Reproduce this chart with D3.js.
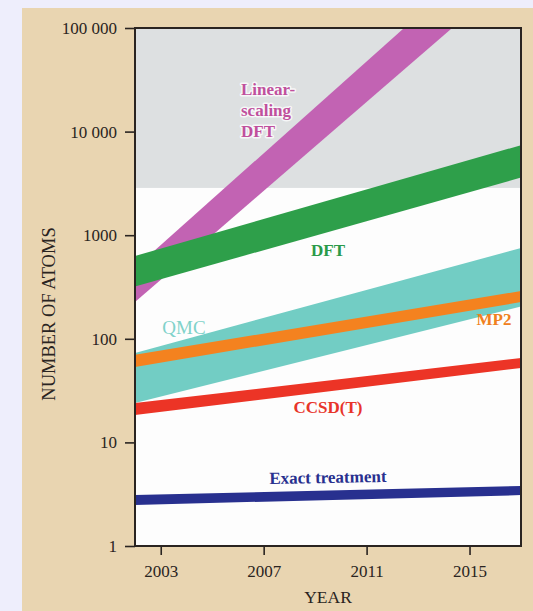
<!DOCTYPE html>
<html>
<head>
<meta charset="utf-8">
<script src="https://cdn.jsdelivr.net/npm/d3@7"></script>
<style>
  html, body { margin: 0; padding: 0; background: #eeeefc; }
  svg { display: block; }
</style>
</head>
<body>
<svg id="chart" width="533" height="611"></svg>
<script>
// ---- data (at the plot's edge years) ----
const years = [2002, 2017];
const linearDFTLow  = [226, 375000];
const linearDFTHigh = [482, 1016000];
const dftLow  = [320, 3600];
const dftHigh = [630, 7400];
const qmcLow  = [24, 205];
const qmcHigh = [73, 752];
const mp2Low  = [53.5, 226];
const mp2High = [70, 289];
const ccsdLow  = [18.4, 52.3];
const ccsdHigh = [24, 65.3];
const exactLow  = [2.49, 3.1];
const exactHigh = [3.1, 3.79];
const greyThreshold = 2860;
const xTicks = [2003, 2007, 2011, 2015];
const yTicks = [1, 10, 100, 1000, 10000, 100000];

const FONT = "'Liberation Serif', 'Times New Roman', serif";
const svg = d3.select("#chart");

// panel background
svg.append("rect").attr("x", 22).attr("y", 8).attr("width", 511).attr("height", 603).attr("fill", "#e9d5b1");

const L = 135, R = 521, T = 28, B = 546;
const x = d3.scaleLinear().domain([2002, 2017]).range([L, R]);
const y = d3.scaleLog().domain([1, 100000]).range([B, T]);

svg.append("defs").append("clipPath").attr("id", "plotclip")
  .append("rect").attr("x", L).attr("y", T).attr("width", R - L).attr("height", B - T);

const plot = svg.append("g").attr("clip-path", "url(#plotclip)");
plot.append("rect").attr("x", L).attr("y", T).attr("width", R - L).attr("height", B - T).attr("fill", "#fdfdfd");
plot.append("rect").attr("x", L).attr("y", T).attr("width", R - L).attr("height", y(greyThreshold) - T).attr("fill", "#dde0e1");

const bands = [
  {lo: linearDFTLow, hi: linearDFTHigh, color: "#c263b3"},
  {lo: dftLow, hi: dftHigh, color: "#2e9f4a"},
  {lo: qmcLow, hi: qmcHigh, color: "#72cdc4"},
  {lo: mp2Low, hi: mp2High, color: "#f4821f"},
  {lo: ccsdLow, hi: ccsdHigh, color: "#ec3426"},
  {lo: exactLow, hi: exactHigh, color: "#28308f"}
];
const area = d3.area().x(d => x(d.year)).y0(d => y(d.lo)).y1(d => y(d.hi));
bands.forEach(b => {
  const pts = years.map((yr, i) => ({year: yr, lo: b.lo[i], hi: b.hi[i]}));
  plot.append("path").attr("d", area(pts)).attr("fill", b.color);
});

// border
svg.append("rect").attr("x", L).attr("y", T).attr("width", R - L).attr("height", B - T)
  .attr("fill", "none").attr("stroke", "#2a2421").attr("stroke-width", 2);

// axes
const fmtY = d => d >= 10000 ? d3.format(",")(d).replace(/,/g, " ") : String(d);
const yAxis = svg.append("g").attr("transform", `translate(${L},0)`)
  .call(d3.axisLeft(y).tickValues(yTicks).tickFormat(fmtY).tickSize(10).tickPadding(8));
const xAxis = svg.append("g").attr("transform", `translate(0,${B})`)
  .call(d3.axisBottom(x).tickValues(xTicks).tickFormat(d3.format("d")).tickSize(9).tickPadding(10));
[yAxis, xAxis].forEach(g => {
  g.select(".domain").remove();
  g.selectAll("line").attr("stroke", "#2a2421").attr("stroke-width", 1.6);
  g.selectAll("text").attr("font-family", FONT).attr("font-size", 17).attr("fill", "#2a2421");
});

// axis titles
svg.append("text").attr("x", (L + R) / 2).attr("y", 603).attr("text-anchor", "middle")
  .attr("font-family", FONT).attr("font-size", 17.5).attr("fill", "#2a2421").text("YEAR");
svg.append("text").attr("transform", "translate(55,314) rotate(-90)").attr("text-anchor", "middle")
  .attr("font-family", FONT).attr("font-size", 18.5).attr("fill", "#2a2421").text("NUMBER OF ATOMS");

// band labels
function label(txt, px, py, color, opts = {}) {
  const t = svg.append("text").attr("x", px).attr("y", py)
    .attr("text-anchor", opts.anchor || "middle")
    .attr("font-family", FONT).attr("font-size", opts.size || 17)
    .attr("font-weight", opts.weight || "bold").attr("fill", color).text(txt);
  if (opts.halo) t.attr("stroke", "#ffffff").attr("stroke-width", 3).attr("stroke-opacity", 0.75)
    .attr("paint-order", "stroke").attr("stroke-linejoin", "round");
  if (opts.rotate) t.attr("transform", `rotate(${opts.rotate},${px},${py})`);
  return t;
}
label("Linear-", 241, 95, "#c0509d", {anchor: "start", halo: true});
label("scaling", 241, 116, "#c0509d", {anchor: "start", halo: true});
label("DFT", 241, 137, "#c0509d", {anchor: "start", halo: true});
label("DFT", 328, 256, "#2a9a48");
label("QMC", 184, 334, "#80d2ca", {weight: "normal", size: 19});
label("MP2", 494, 325, "#f08020");
label("CCSD(T)", 328, 413, "#e8342a");
label("Exact treatment", 328, 483, "#28308f", {rotate: -1});
</script>
</body>
</html>
